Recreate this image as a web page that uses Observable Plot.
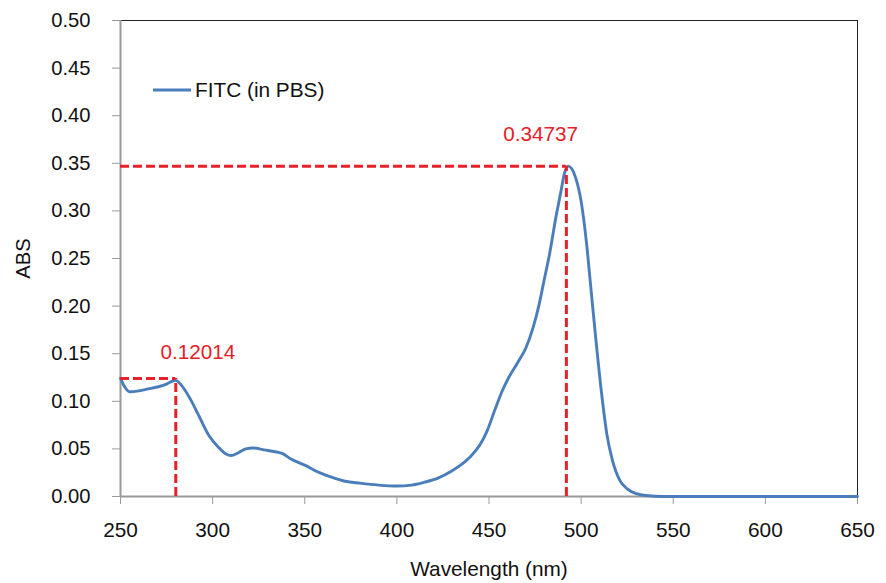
<!DOCTYPE html>
<html>
<head>
<meta charset="utf-8">
<script src="https://cdn.jsdelivr.net/npm/d3@7"></script>
<script src="https://cdn.jsdelivr.net/npm/@observablehq/plot@0.6"></script>
<style>
  body { margin: 0; background: #fff; }
  #wrap { position: relative; width: 886px; height: 583px; font-family: "Liberation Sans", Arial, sans-serif; }
  #legend { position: absolute; left: 153px; top: 78px; display: flex; align-items: center; font-size: 20.8px; color: #111; }
  #legend svg { margin-right: 4px; }
</style>
</head>
<body>
<div id="wrap">
  <div id="chart"></div>
  <div id="legend"><svg width="38" height="6"><line x1="0" x2="38" y1="3" y2="3" stroke="#4a7ebb" stroke-width="3"/></svg><span>FITC (in PBS)</span></div>
</div>
<script>
const wavelength = [250,252,255,260,265,270,275,278,280,283,288,293,298,303,307,310,314,318,322,328,334,338,342,350,358,365,372,380,390,400,408,415,422,430,436,440,445,449,453,457,461,466,470,474,477,480,483,486,489,491,493,495,497,500,503,505,508,511,514,517,521,525,530,535,545,560,600,650];
const absorbance = [0.124,0.116,0.110,0.111,0.113,0.115,0.118,0.121,0.122,0.117,0.102,0.083,0.064,0.052,0.045,0.043,0.046,0.050,0.051,0.049,0.047,0.045,0.040,0.033,0.025,0.020,0.016,0.014,0.012,0.011,0.012,0.015,0.019,0.027,0.035,0.042,0.054,0.069,0.090,0.110,0.126,0.142,0.156,0.178,0.200,0.228,0.256,0.290,0.320,0.340,0.347,0.344,0.335,0.310,0.265,0.225,0.165,0.110,0.065,0.038,0.017,0.008,0.003,0.001,0.0,0.0,0.0,0.0];

const peakX = [280, 492];
const peakY = [0.124, 0.347];
const peakLabels = ["0.12014", "0.34737"];
const labelX = [292, 478];
const labelY = [0.151, 0.380];

const xTicks = [250,300,350,400,450,500,550,600,650];
const yTicks = [0,0.05,0.10,0.15,0.20,0.25,0.30,0.35,0.40,0.45,0.50];

const series = wavelength.map((w, i) => ({w, a: absorbance[i]}));
const peaks = peakX.map((x, i) => ({x, y: peakY[i], label: peakLabels[i], lx: labelX[i], ly: labelY[i]}));

const red = "#e8202a";
const blue = "#4a7ebb";
const gray = "#9a9a9a";

const chart = Plot.plot({
  width: 886,
  height: 583,
  marginLeft: 120,
  marginRight: 29,
  marginTop: 20,
  marginBottom: 87,
  style: {fontSize: "20.5px", fontFamily: "'Liberation Sans', Arial, sans-serif", color: "#111", background: "#fff"},
  x: {domain: [250, 650]},
  y: {domain: [0, 0.5]},
  marks: [
    Plot.axisX({ticks: xTicks, tickSize: 8, tickPadding: 18, tickFormat: d3.format("d"), stroke: gray,
      label: "Wavelength (nm)", labelAnchor: "center", labelArrow: "none", labelOffset: 79, fontSize: 20.8}),
    Plot.axisY({ticks: yTicks, tickSize: 8, tickPadding: 22, tickFormat: d3.format(".2f"), stroke: gray,
      label: "ABS", labelAnchor: "center", labelArrow: "none", labelOffset: 105, fontSize: 20.2}),
    Plot.ruleY([0.5], {stroke: "#222", strokeWidth: 1}),
    Plot.ruleX([650], {stroke: "#222", strokeWidth: 1}),
    Plot.ruleX([250], {stroke: gray, strokeWidth: 2}),
    Plot.ruleY([0], {stroke: gray, strokeWidth: 2}),
    Plot.line(series, {x: "w", y: "a", stroke: blue, strokeWidth: 2.9, curve: "monotone-x"}),
    Plot.ruleY(peaks, {y: "y", x1: 250, x2: "x", stroke: red, strokeWidth: 3, strokeDasharray: "9,4"}),
    Plot.ruleX(peaks, {x: "x", y1: 0, y2: "y", stroke: red, strokeWidth: 3, strokeDasharray: "9,4"}),
    Plot.text(peaks, {x: "lx", y: "ly", text: "label", fill: red, fontSize: 20.7})
  ]
});
document.getElementById("chart").appendChild(chart);
</script>
</body>
</html>
